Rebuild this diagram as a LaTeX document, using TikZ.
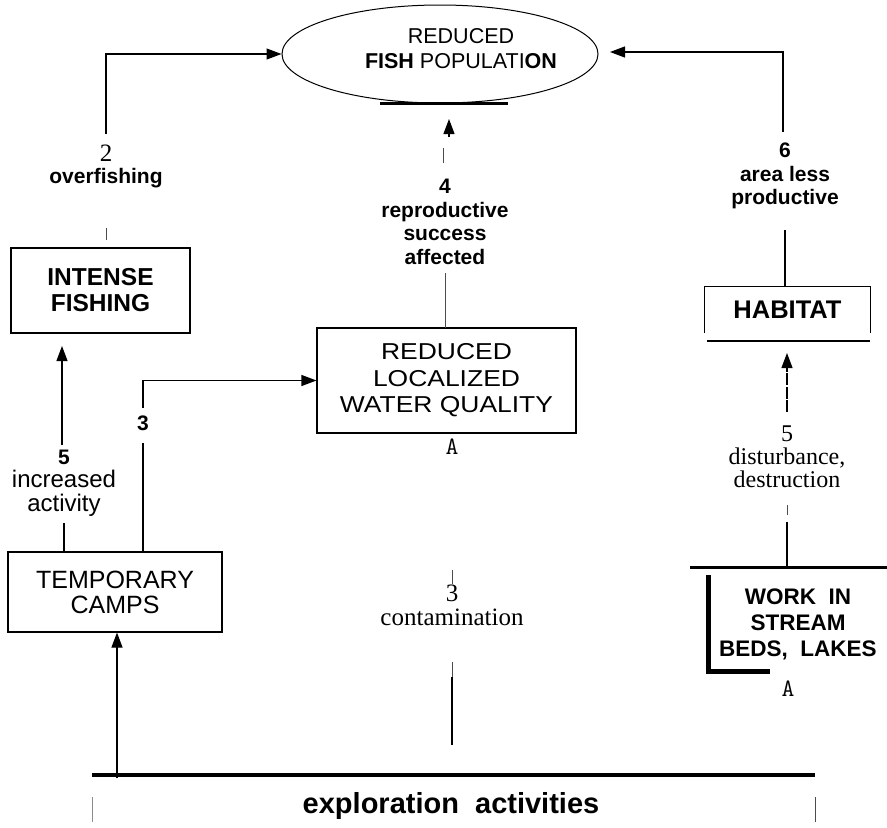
\documentclass[tikz,border=0pt]{standalone}
\usepackage{fontspec}
\setmainfont{Liberation Serif}
\newfontfamily\lsans{Liberation Sans}
\newfontfamily\wsans[FakeStretch=1.15]{Liberation Sans}
\usetikzlibrary{arrows.meta,shapes.geometric}
\tikzset{
  box/.style={draw, line width=1.1pt, inner sep=0pt},
  conn/.style={line width=1.1pt},
  tick/.style={line width=0.7pt, draw=black!70},
  arr/.style={conn, -{Triangle[length=15pt,width=11pt]}},
  blab/.style={font=\lsans\bfseries\fontsize{21}{23.5}\selectfont, align=center, inner sep=0pt},
  slab/.style={font=\fontsize{25}{23}\selectfont, align=center, inner sep=0pt},
  artA/.style={font=\ttfamily\fontsize{25}{25}\selectfont, inner sep=0pt},
}
\begin{document}
\begin{tikzpicture}[x=1pt,y=-1pt]
\useasboundingbox (0,0) rectangle (887,828);

% ---- main nodes
\node[draw, ellipse, line width=1pt, minimum width=316pt, minimum height=98pt] (fish) at (440,54) {};
\node[font=\lsans\fontsize{21.5}{25}\selectfont, align=center, inner sep=0pt] (fishtxt) at (461,49) {REDUCED\\\textbf{FISH} POPULATI\textbf{ON}};
\draw[line width=3pt] (380,103) -- (508,103);

\node[box, minimum width=179pt, minimum height=85pt, align=center,
      font=\lsans\bfseries\fontsize{24.5}{26}\selectfont] (intense) at (100.5,290.5) {INTENSE\\FISHING};

\node[box, minimum width=214pt, minimum height=80pt, align=center,
      font=\lsans\fontsize{25}{25}\selectfont] (camps) at (115,592) {TEMPORARY\\CAMPS};

\node[box, minimum width=259pt, minimum height=105pt, align=center,
      font=\wsans\fontsize{23}{26.5}\selectfont] (water) at (446.5,380.5) {REDUCED\\LOCALIZED\\WATER QUALITY};
\node[artA] (wA) at (452,447) {A};

\node[minimum width=165pt, minimum height=46pt, inner sep=0pt,
      font=\lsans\bfseries\fontsize{25.5}{26}\selectfont] (habitat) at (787.5,310) {HABITAT};
\draw[conn] (habitat.south west) |- (habitat.north east) -- (habitat.south east);
\draw[line width=2.5pt] (707,341) -- (870,341);

\node[align=center, inner sep=0pt,
      font=\lsans\bfseries\fontsize{22.5}{26}\selectfont] (work) at (798,624) {WORK\ \ IN\\STREAM\\BEDS,\ \ LAKES};
\draw[line width=3pt] (690,567) -- (887,567);
\draw[line width=5pt] (708,575) |- (770,671);
\node[artA] (workA) at (788,689) {A};

\node[inner sep=0pt, font=\lsans\bfseries\fontsize{29}{29}\selectfont] (explor) at (451,806) {exploration\ \ activities};
\draw[line width=3.5pt] (92,775) -- (815,775);
\draw[line width=1pt, draw=black!45] (92,797) -- (92,822);
\draw[line width=1pt, draw=black!70] (815,797) -- (815,822);

% ---- connector 2: intense fishing -> fish population
\node[slab] (l2n) at (106,153) {2};
\node[blab] (l2) at (106,178) {overfishing};
\draw[tick] (106,228) -- (106,240);
\draw[arr] (106,134) |- (fish.west);

% ---- connector 5: camps -> intense fishing
\node[blab] (l5a) at (64,457) {5};
\node[font=\lsans\fontsize{24}{24}\selectfont, align=center, inner sep=0pt] (l5b) at (64,493) {increased\\activity};
\draw[conn] (64,552) -- (64,523);
\draw[arr] (62,445) -- (62,346);

% ---- connector 3: camps -> water quality
\node[blab] (l3) at (143,423) {3};
\draw[conn] (143,552) -- (143,443);
\draw[arr] (143,408) |- (water.west);

% ---- connector 4: water quality -> fish population
\draw[tick] (445,328) -- (445,273);
\node[blab] (l4) at (445,222) {4\\reproductive\\success\\affected};
\draw[tick] (443,148) -- (443,163);
\draw[arr] (449,137) -- (449,119);

% ---- connector 6: habitat -> fish population
\draw[conn] (785,287) -- (785,230);
\node[blab] (l6) at (785,176) {6\\area less\\productive};
\draw[arr] (783,132) |- (610,52);

% ---- connector 5: work in stream beds -> habitat
\draw[conn] (787,567) -- (787,522);
\draw[tick] (787,505) -- (787,515);
\node[font=\fontsize{24}{23}\selectfont, align=center, inner sep=0pt] (l5r) at (787,457) {5\\disturbance,\\destruction};
\draw[arr, dash pattern=on 12pt off 1.5pt] (787,412) -- (787,353);

% ---- connector 3: exploration -> water quality
\draw[tick] (452,570) -- (452,584);
\node[font=\fontsize{25}{24}\selectfont, align=center, inner sep=0pt] (l3c) at (452,605) {3\\contamination};
\draw[tick] (452,662) -- (452,677);
\draw[line width=2pt] (452,677) -- (452,745);

% ---- exploration -> camps
\draw[arr] (117,778) -- (camps.south -| 117,0);

\end{tikzpicture}
\end{document}
